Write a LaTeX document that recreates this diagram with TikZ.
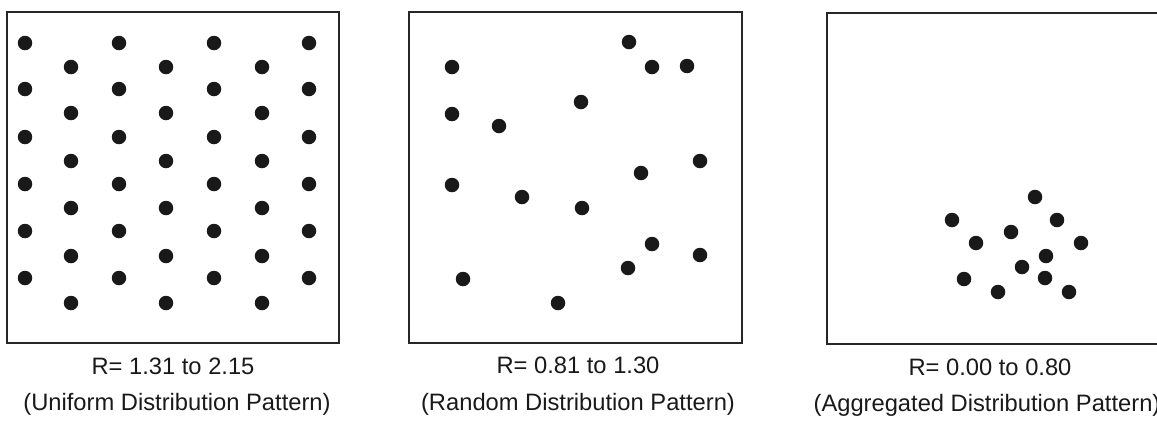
\documentclass[tikz,border=0pt]{standalone}
\usepackage{fontspec}
\setmainfont{Liberation Sans}
\usepackage{tikz}
\tikzset{
  panel/.style={draw=black!85, line width=1.4pt},
  dot/.style={fill=black!90},
  rlabel/.style={font=\fontsize{13.5}{16}\selectfont, text=black!90, anchor=base, inner sep=0pt},
  caption/.style={rlabel}}

\begin{document}
\begin{tikzpicture}[x=0.2mm,y=-0.2mm]
  \useasboundingbox (0,0) rectangle (1157,420);
  % uniform
  \draw[panel] (7,12) rectangle (339,343);
  \foreach \x in {25,119,214,309}
    \foreach \y in {43,89,137,184,231,278}
      \fill[dot] (\x,\y) circle[radius=1.45mm];
  \foreach \x in {71,166,262}
    \foreach \y in {67,113,161,208,256,303}
      \fill[dot] (\x,\y) circle[radius=1.45mm];
  \node[rlabel] (r1) at (173,374) {R= 1.31 to 2.15};
  \node[caption] (c1) at (177,410) {(Uniform Distribution Pattern)};
  % random
  \draw[panel] (409,12) rectangle (742,343);
  \foreach \x/\y in {629/42, 452/67, 652/67, 687/66, 581/102, 452/114, 499/126,
      700/161, 641/173, 452/185, 522/197, 582/208, 652/244, 700/255, 628/268,
      463/279, 558/303}
    \fill[dot] (\x,\y) circle[radius=1.45mm];
  \node[rlabel] (r2) at (578,373) {R= 0.81 to 1.30};
  \node[caption] (c2) at (578,410) {(Random Distribution Pattern)};
  % aggregated
  \draw[panel] (827,13) rectangle (1170,344);
  \foreach \x/\y in {1035/197, 952/220, 1057/220, 1011/232, 976/243, 1081/243,
      1046/256, 1022/267, 964/279, 1045/278, 998/292, 1069/292}
    \fill[dot] (\x,\y) circle[radius=1.45mm];
  \node[rlabel] (r3) at (990,375) {R= 0.00 to 0.80};
  \node[caption] (c3) at (987,411) {(Aggregated Distribution Pattern)};
\end{tikzpicture}
\end{document}
